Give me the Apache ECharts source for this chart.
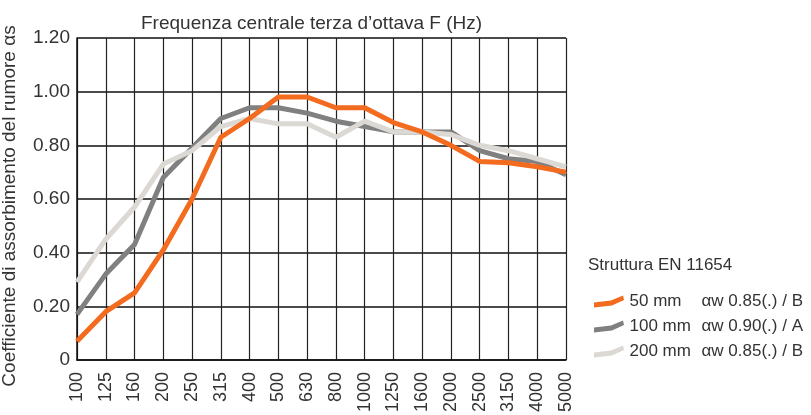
<!DOCTYPE html>
<html>
<head>
<meta charset="utf-8">
<script src="https://cdn.jsdelivr.net/npm/echarts@6/dist/echarts.min.js"></script>
<style>
  html, body { margin: 0; padding: 0; background: #fff; }
  #chart-container { width: 811px; height: 415px; }
</style>
</head>
<body>
<div id="chart-container"></div>
<script>
// Frequenze centrali terza d'ottava (Hz)
var frequencies = ["100", "125", "160", "200", "250", "315", "400", "500", "630", "800",
  "1000", "1250", "1600", "2000", "2500", "3150", "4000", "5000"];

// Coefficiente di assorbimento per spessore
var mm50 = [0.07, 0.18, 0.25, 0.41, 0.60, 0.83, 0.90, 0.98, 0.98, 0.94,
  0.94, 0.885, 0.85, 0.80, 0.74, 0.735, 0.72, 0.70];
var mm100 = [0.17, 0.32, 0.43, 0.68, 0.79, 0.90, 0.94, 0.94, 0.92, 0.89,
  0.87, 0.85, 0.85, 0.85, 0.78, 0.75, 0.74, 0.69];
var mm200 = [0.29, 0.45, 0.57, 0.73, 0.78, 0.87, 0.90, 0.88, 0.88, 0.83,
  0.89, 0.85, 0.85, 0.84, 0.80, 0.78, 0.75, 0.72];

var seriesNames = ["50 mm", "100 mm", "200 mm"];
var ratings = ["αw 0.85(.) / B", "αw 0.90(.) / A", "αw 0.85(.) / B"];
var colors = ["#f26b1f", "#808080", "#dcd8d4"];

var chartDom = document.getElementById("chart-container");
var myChart = echarts.init(chartDom);

var font = "Liberation Sans";
var legendIcon = "path://M0,7 L17,5 L29,0 L30,4.5 L18,10 L0,12 Z";

var option = {
  animation: false,
  textStyle: { fontFamily: font },
  title: {
    text: "Frequenza centrale terza d\u2019ottava F (Hz)",
    left: 136,
    top: 9,
    textStyle: { fontFamily: font, fontSize: 19, fontWeight: "normal", color: "#333" }
  },
  graphic: [
    {
      type: "text",
      left: 588,
      top: 257,
      style: { text: "Struttura EN 11654", font: "17px " + font, fill: "#333" }
    },
    {
      // titolo asse y, ruotato
      type: "text",
      x: 10,
      y: 206,
      rotation: Math.PI / 2,
      style: {
        text: "Coefficiente di assorbimento del rumore \u03b1s",
        font: "19px " + font,
        fill: "#333",
        align: "center",
        verticalAlign: "middle"
      }
    }
  ],
  legend: {
    orient: "vertical",
    left: 589,
    top: 288,
    itemWidth: 31,
    itemHeight: 12,
    itemGap: 8,
    icon: legendIcon,
    data: seriesNames,
    formatter: function (name) {
      var i = seriesNames.indexOf(name);
      return "{a|" + name + "}{b|" + ratings[i] + "}";
    },
    textStyle: {
      fontFamily: font,
      fontSize: 17,
      color: "#333",
      rich: {
        a: { width: 72, fontSize: 17, fontFamily: font, color: "#333" },
        b: { fontSize: 17, fontFamily: font, color: "#333" }
      }
    }
  },
  grid: { left: 77, right: 245, top: 38, bottom: 54 },
  xAxis: {
    type: "category",
    data: frequencies,
    boundaryGap: false,
    axisLine: { lineStyle: { color: "#111", width: 1.5 } },
    axisTick: { show: false },
    axisLabel: { rotate: 90, fontSize: 18, color: "#333", margin: 12, fontFamily: font },
    splitLine: { show: true, lineStyle: { color: "#222", width: 1.2 } }
  },
  yAxis: {
    type: "value",
    min: 0,
    max: 1.2,
    interval: 0.2,
    axisLine: { show: true, lineStyle: { color: "#111", width: 1.5 } },
    axisTick: { show: false },
    axisLabel: {
      fontSize: 19,
      color: "#333",
      margin: 7,
      fontFamily: font,
      formatter: function (v) { return v === 0 ? "0" : v.toFixed(2); }
    },
    splitLine: { show: true, lineStyle: { color: "#111", width: 1.5 } }
  },
  series: [
    { name: seriesNames[2], type: "line", data: mm200, symbol: "none", z: 3,
      itemStyle: { color: colors[2] }, lineStyle: { color: colors[2], width: 5 } },
    { name: seriesNames[1], type: "line", data: mm100, symbol: "none", z: 2,
      itemStyle: { color: colors[1] }, lineStyle: { color: colors[1], width: 5 } },
    { name: seriesNames[0], type: "line", data: mm50, symbol: "none", z: 4,
      itemStyle: { color: colors[0] }, lineStyle: { color: colors[0], width: 5 } }
  ]
};

option && myChart.setOption(option);

window.addEventListener("resize", function () {
  myChart.resize();
});
</script>
</body>
</html>
